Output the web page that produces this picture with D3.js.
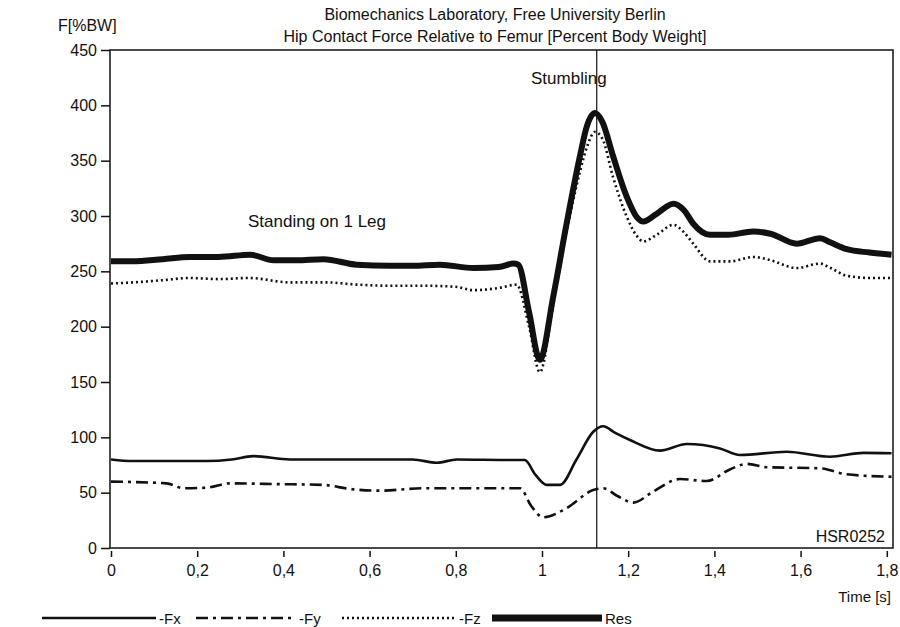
<!DOCTYPE html>
<html><head><meta charset="utf-8">
<script src="https://cdn.jsdelivr.net/npm/d3@7"></script>
<style>
html,body{margin:0;padding:0;background:#fff;}
svg{display:block;font-family:"Liberation Sans",Arial,sans-serif;}
</style></head>
<body><svg id="chart" width="900" height="627"></svg>
<script>
// ---- data ----
const titleLines = ["Biomechanics Laboratory, Free University Berlin",
                    "Hip Contact Force Relative to Femur [Percent Body Weight]"];
const yTicks = [0,50,100,150,200,250,300,350,400,450];
const xTicks = [0,0.2,0.4,0.6,0.8,1,1.2,1.4,1.6,1.8];
const seriesNames = ["-Fx","-Fy","-Fz","Res"];
const eventTime = 1.127;

const resT = [0,0.05,0.12,0.183,0.25,0.323,0.377,0.43,0.493,0.57,0.647,0.70,0.763,0.841,0.90,0.934,0.945,0.97,0.995,1.026,1.057,1.088,1.104,1.123,1.14,1.165,1.196,1.22,1.235,1.266,1.305,1.33,1.351,1.39,1.432,1.49,1.53,1.591,1.645,1.67,1.707,1.76,1.811];
const resV = [259,259,261,263,263,265,260,260,261,256,255,255,256,253,254,257,256,213,170,227,293,354,381,393,385,354,318,299,295,302,311,305,293,283,283,286,284,275,280,276,270,267,265];

const fzT = [0,0.05,0.12,0.183,0.25,0.32,0.415,0.5,0.57,0.65,0.725,0.8,0.841,0.90,0.941,0.97,0.995,1.026,1.057,1.088,1.104,1.123,1.14,1.165,1.196,1.22,1.235,1.266,1.305,1.33,1.351,1.39,1.436,1.49,1.53,1.591,1.645,1.67,1.707,1.76,1.811];
const fzV = [239,240,242,244,243,244,240,240,238,237,237,236,233,235,238,200,159,220,285,340,362,376,370,335,300,282,277,283,292,285,275,259,259,263,260,253,257,253,246,244,244];

const fxT = [0,0.05,0.222,0.28,0.33,0.415,0.5,0.647,0.70,0.756,0.802,0.926,0.96,0.985,1.011,1.042,1.08,1.119,1.142,1.17,1.204,1.274,1.336,1.413,1.459,1.568,1.668,1.746,1.811];
const fxV = [80,78.6,78.6,80,83,80,80,80,80,77,80,79.5,79.5,66,57,57,80,105,110,104,97.6,88,94,90,84,87,82.5,86,85.6];

const fyT = [0,0.129,0.168,0.222,0.276,0.377,0.493,0.555,0.624,0.725,0.85,0.949,0.975,1.003,1.057,1.119,1.142,1.175,1.212,1.258,1.32,1.382,1.436,1.475,1.521,1.645,1.707,1.811];
const fyV = [60,58.4,54,54.5,58.4,57.8,57,53.3,51.8,54,54,54,38,27.7,36,52.4,54,47,41,51,62.3,60.5,71,76,73,72,66.6,64.4];

// ---- layout ----
const svg = d3.select("#chart");
const L = 111, R = 893, T = 50, B = 548;
const x = d3.scaleLinear().domain([0, 1.8144]).range([L, R]);
const y = d3.scaleLinear().domain([0, 450]).range([B, T]);
const ink = "#111";

const styles = [
  {w:2.6, dash:null},
  {w:2.6, dash:"12,5,3,5"},
  {w:2.6, dash:"2,3"},
  {w:6, dash:null}
];
const data = [
  d3.zip(fxT, fxV), d3.zip(fyT, fyV), d3.zip(fzT, fzV), d3.zip(resT, resV)
];

// titles
svg.selectAll("text.title").data(titleLines).join("text")
  .attr("x", 495).attr("y", (d,i)=> 20 + i*22)
  .attr("text-anchor","middle").attr("font-size",16).attr("fill",ink).text(d=>d);

svg.append("text").attr("x",58).attr("y",31).attr("font-size",16).attr("fill",ink).text("F[%BW]");

// y axis
const ya = svg.append("g").attr("transform",`translate(${L-1},0)`)
  .call(d3.axisLeft(y).tickValues(yTicks).tickSize(9).tickPadding(4));
ya.select(".domain").remove();
ya.selectAll("line").attr("stroke",ink).attr("stroke-width",1.5);
ya.selectAll("text").attr("font-size",16).attr("fill",ink).attr("font-family","Liberation Sans, Arial, sans-serif");

// x axis
const fmt = d => String(d).replace(".", ",");
const xa = svg.append("g").attr("transform",`translate(0,${B+3})`)
  .call(d3.axisBottom(x).tickValues(xTicks).tickSize(6).tickFormat(fmt).tickPadding(8));
xa.select(".domain").remove();
xa.selectAll("line").attr("stroke",ink).attr("stroke-width",1.5);
xa.selectAll("text").attr("font-size",16).attr("fill",ink).attr("font-family","Liberation Sans, Arial, sans-serif");

svg.append("text").attr("x",891).attr("y",602).attr("text-anchor","end")
  .attr("font-size",15).attr("fill",ink).text("Time [s]");

// frame
svg.append("rect").attr("x",L-1).attr("y",T).attr("width",R-L+1).attr("height",B-T)
  .attr("fill","none").attr("stroke",ink).attr("stroke-width",1.5);

// event line
svg.append("line").attr("x1",x(eventTime)).attr("x2",x(eventTime)).attr("y1",T).attr("y2",B)
  .attr("stroke",ink).attr("stroke-width",1.2);

// series
const line = d3.line().x(d=>x(d[0])).y(d=>y(d[1])).curve(d3.curveMonotoneX);
svg.append("g").selectAll("path").data(data).join("path")
  .attr("d", line).attr("fill","none").attr("stroke",ink)
  .attr("stroke-width",(d,i)=>styles[i].w)
  .attr("stroke-dasharray",(d,i)=>styles[i].dash)
  .attr("stroke-linejoin","round");

// annotations
svg.append("text").attr("x",248).attr("y",227).attr("font-size",17).attr("fill",ink).text("Standing on 1 Leg");
svg.append("text").attr("x",531).attr("y",84).attr("font-size",17).attr("fill",ink).text("Stumbling");
svg.append("text").attr("x",885).attr("y",542).attr("text-anchor","end").attr("font-size",16).attr("fill",ink).text("HSR0252");

// legend
const legX = [[42,156],[196,296],[342,456],[492,602]];
const lg = svg.append("g");
seriesNames.forEach((n,i)=>{
  lg.append("line").attr("x1",legX[i][0]).attr("x2",legX[i][1]).attr("y1",618).attr("y2",618)
    .attr("stroke",ink).attr("stroke-width",styles[i].w===6?7:2.6)
    .attr("stroke-dasharray",styles[i].dash);
  lg.append("text").attr("x",legX[i][1]+3).attr("y",624).attr("font-size",15).attr("fill",ink).text(n);
});
</script>
</body></html>
